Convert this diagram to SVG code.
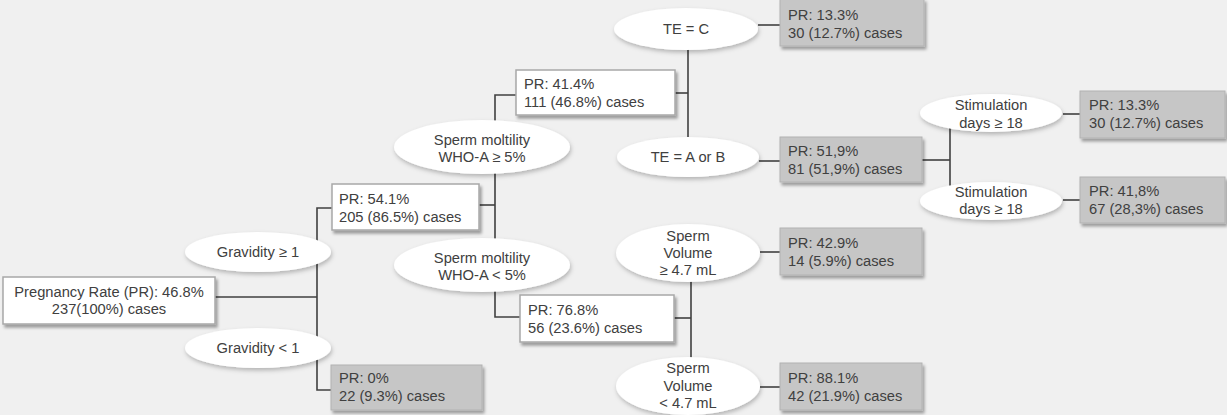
<svg xmlns="http://www.w3.org/2000/svg" width="1227" height="415" viewBox="0 0 1227 415">
  <defs>
    <filter id="shadow" x="-10%" y="-20%" width="130%" height="150%">
      <feDropShadow dx="2" dy="3" stdDeviation="1.8" flood-color="#000" flood-opacity="0.35"/>
    </filter>
    <filter id="softshadow" x="-10%" y="-20%" width="130%" height="150%">
      <feDropShadow dx="1" dy="2.5" stdDeviation="2" flood-color="#000" flood-opacity="0.25"/>
    </filter>
  </defs>
  <style>
    text { font-family: "Liberation Sans", Arial, sans-serif; font-size: 14.7px; fill: #404040; }
    .c { text-anchor: middle; }
    .box { fill: #ffffff; stroke: #a8a8a8; stroke-width: 1.5; filter: url(#shadow); }
    .leaf { fill: #c6c6c6; stroke: #b2b2b2; stroke-width: 1; filter: url(#shadow); }
    .split { fill: #ffffff; stroke: none; filter: url(#softshadow); }
    .wire { fill: none; stroke: #404040; stroke-width: 1.6; }
  </style>

  <rect width="1227" height="415" fill="#f0f0f0"/>

  <!-- connectors -->
  <g id="connectors" class="wire">
    <path d="M215,297 H317"/>
    <path d="M332,208 H317 V390 H331"/>
    <path d="M479,205 H495"/>
    <path d="M516,95 H495 V317 H520"/>
    <path d="M675,93 H688"/>
    <path d="M688,29 V157"/>
    <path d="M758,25 H780"/>
    <path d="M759,161 H780"/>
    <path d="M922,160 H950"/>
    <path d="M950,113 V201"/>
    <path d="M1063,114 H1080"/>
    <path d="M1063,200 H1080"/>
    <path d="M674,318 H691"/>
    <path d="M691,253 V386"/>
    <path d="M760,252 H780"/>
    <path d="M760,387 H780"/>
  </g>

  <!-- root -->
  <g id="root">
    <rect class="box" x="3" y="277" width="212" height="47"/>
    <text class="c" x="109" y="297">Pregnancy Rate (PR): 46.8%</text>
    <text class="c" x="109" y="314">237(100%) cases</text>
  </g>

  <!-- gravidity split -->
  <g id="gravidity-ge1">
    <ellipse class="split" cx="258" cy="252" rx="73" ry="20"/>
    <text class="c" x="258" y="257">Gravidity ≥ 1</text>
  </g>
  <g id="gravidity-lt1">
    <ellipse class="split" cx="258" cy="348" rx="73" ry="20"/>
    <text class="c" x="258" y="353">Gravidity &lt; 1</text>
  </g>
  <g id="pr-54">
    <rect class="box" x="332" y="184" width="147" height="46"/>
    <text x="339" y="204">PR: 54.1%</text>
    <text x="339" y="222">205 (86.5%) cases</text>
  </g>
  <g id="pr-0">
    <rect class="leaf" x="331" y="365" width="151" height="45"/>
    <text x="339" y="383">PR: 0%</text>
    <text x="339" y="401">22 (9.3%) cases</text>
  </g>

  <!-- motility split -->
  <g id="motility-ge5">
    <ellipse class="split" cx="482" cy="147" rx="88" ry="27"/>
    <text class="c" x="482" y="145">Sperm moltility</text>
    <text class="c" x="482" y="162">WHO-A ≥ 5%</text>
  </g>
  <g id="motility-lt5">
    <ellipse class="split" cx="482" cy="265" rx="88" ry="27"/>
    <text class="c" x="482" y="263">Sperm moltility</text>
    <text class="c" x="482" y="280">WHO-A &lt; 5%</text>
  </g>
  <g id="pr-41">
    <rect class="box" x="516" y="70" width="159" height="45"/>
    <text x="524" y="89">PR: 41.4%</text>
    <text x="524" y="107">111 (46.8%) cases</text>
  </g>
  <g id="pr-76">
    <rect class="box" x="520" y="295" width="154" height="47"/>
    <text x="528" y="315">PR: 76.8%</text>
    <text x="528" y="333">56 (23.6%) cases</text>
  </g>

  <!-- TE split -->
  <g id="te-c">
    <ellipse class="split" cx="686" cy="29" rx="72" ry="21"/>
    <text class="c" x="686" y="34">TE = C</text>
  </g>
  <g id="te-ab">
    <ellipse class="split" cx="688" cy="157" rx="71" ry="20"/>
    <text class="c" x="688" y="162">TE = A or B</text>
  </g>
  <g id="pr-13-te">
    <rect class="leaf" x="780" y="-1" width="144" height="47"/>
    <text x="788" y="20">PR: 13.3%</text>
    <text x="788" y="38">30 (12.7%) cases</text>
  </g>
  <g id="pr-51">
    <rect class="leaf" x="780" y="137" width="142" height="45"/>
    <text x="788" y="156">PR: 51,9%</text>
    <text x="788" y="174">81 (51,9%) cases</text>
  </g>

  <!-- stimulation split -->
  <g id="stim-1">
    <ellipse class="split" cx="991" cy="113" rx="71" ry="19"/>
    <text class="c" x="991" y="110">Stimulation</text>
    <text class="c" x="991" y="128">days ≥ 18</text>
  </g>
  <g id="stim-2">
    <ellipse class="split" cx="991" cy="201" rx="71" ry="19"/>
    <text class="c" x="991" y="197">Stimulation</text>
    <text class="c" x="991" y="214">days ≥ 18</text>
  </g>
  <g id="pr-13-stim">
    <rect class="leaf" x="1080" y="91" width="145" height="47"/>
    <text x="1089" y="110">PR: 13.3%</text>
    <text x="1089" y="128">30 (12.7%) cases</text>
  </g>
  <g id="pr-41-stim">
    <rect class="leaf" x="1080" y="177" width="145" height="46"/>
    <text x="1089" y="196">PR: 41,8%</text>
    <text x="1089" y="214">67 (28,3%) cases</text>
  </g>

  <!-- volume split -->
  <g id="volume-ge">
    <ellipse class="split" cx="688" cy="253" rx="72" ry="29"/>
    <text class="c" x="688" y="241">Sperm</text>
    <text class="c" x="688" y="258">Volume</text>
    <text class="c" x="688" y="275">≥ 4.7 mL</text>
  </g>
  <g id="volume-lt">
    <ellipse class="split" cx="688" cy="386" rx="72" ry="29"/>
    <text class="c" x="688" y="373">Sperm</text>
    <text class="c" x="688" y="391">Volume</text>
    <text class="c" x="688" y="408">&lt; 4.7 mL</text>
  </g>
  <g id="pr-42">
    <rect class="leaf" x="780" y="228" width="142" height="47"/>
    <text x="788" y="248">PR: 42.9%</text>
    <text x="788" y="266">14 (5.9%) cases</text>
  </g>
  <g id="pr-88">
    <rect class="leaf" x="780" y="363" width="142" height="47"/>
    <text x="788" y="383">PR: 88.1%</text>
    <text x="788" y="401">42 (21.9%) cases</text>
  </g>
</svg>
